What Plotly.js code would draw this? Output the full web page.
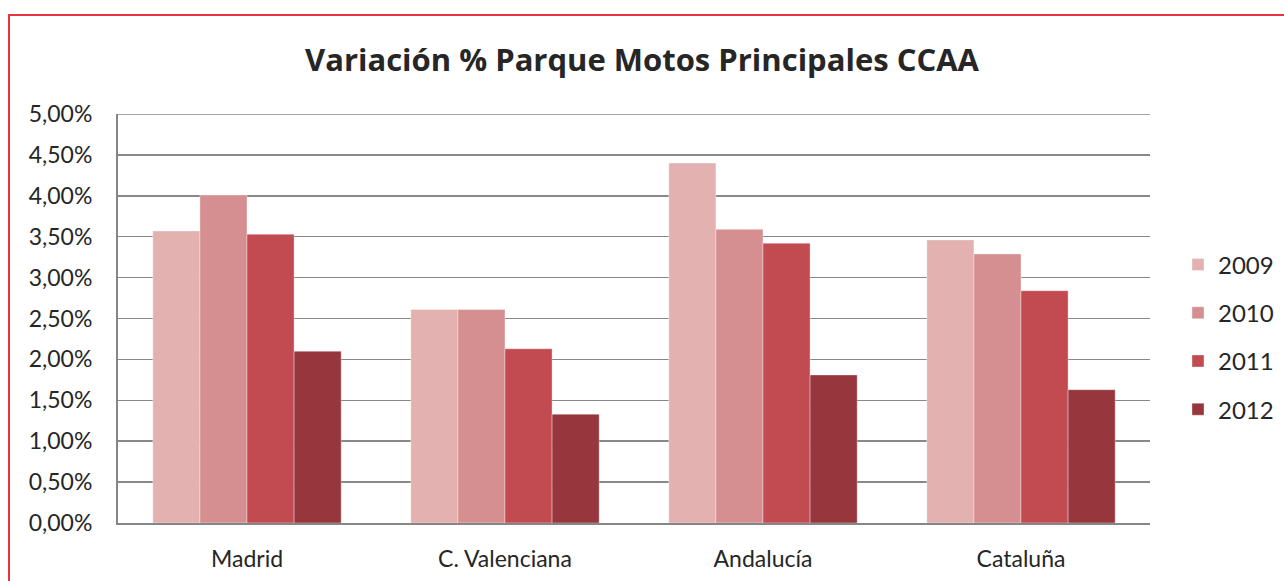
<!DOCTYPE html>
<html><head><meta charset="utf-8">
<script src="https://cdn.plot.ly/plotly-3.0.1.min.js"></script>
<style>
html,body{margin:0;padding:0;background:#fff;}
#frame{position:absolute;left:8px;top:14px;width:1300px;height:600px;border:2px solid #E8333D;box-sizing:border-box;pointer-events:none;z-index:5;}
#chart{position:absolute;left:0;top:0;width:1284px;height:581px;}
</style></head>
<body>
<div id="chart"></div>
<div id="frame"></div>
<script>
const categories = ["Madrid", "C. Valenciana", "Andalucía", "Cataluña"];
const years = ["2009", "2010", "2011", "2012"];
const v2009 = [3.57, 2.61, 4.40, 3.46];
const v2010 = [4.01, 2.61, 3.59, 3.29];
const v2011 = [3.53, 2.13, 3.42, 2.84];
const v2012 = [2.10, 1.33, 1.81, 1.63];
const series = [v2009, v2010, v2011, v2012];
const colors = ["#E2B1B0", "#D68F90", "#C24B51", "#98363D"];

const traces = series.map((vals, i) => ({
  type: "bar",
  name: years[i],
  x: categories,
  y: vals,
  legendgroup: years[i],
  marker: {color: colors[i], line: {color: "rgba(255,255,255,0.35)", width: 1}},
  hoverinfo: "none"
}));

const layout = {
  width: 1284, height: 581,
  paper_bgcolor: "#fff", plot_bgcolor: "#fff",
  margin: {l: 118, r: 134, t: 114, b: 58, autoexpand: false},
  separators: ",.",
  font: {family: "Lato, 'Open Sans', sans-serif", color: "#262626", size: 23},
  title: {text: "<b>Variación % Parque Motos Principales CCAA</b>", x: 0.5, xanchor: "center", y: 0.896, yanchor: "middle",
    font: {size: 31, color: "#262626", family: "'Open Sans', Lato, sans-serif"}},
  barmode: "group",
  bargap: 0.27, bargroupgap: 0,
  xaxis: {showline: true, linecolor: "#868686", linewidth: 2, ticks: "", tickfont: {size: 23},
    showgrid: false, zeroline: false, ticklabelstandoff: 14, automargin: false},
  yaxis: {range: [0, 5], dtick: 0.5, tickformat: ".2f", ticksuffix: "%", showline: true, linecolor: "#868686", linewidth: 2,
    gridcolor: "#888888", gridwidth: 1.5, zeroline: false, ticks: "", ticklabelstandoff: 19, tickfont: {size: 23}, automargin: false},
  legend: {xref: "container", yref: "container", x: 1178/1284, xanchor: "left", y: 1 - 337/581, yanchor: "middle",
    font: {size: 24}, tracegroupgap: 14, itemwidth: 30, bgcolor: "rgba(0,0,0,0)"},
  showlegend: true,
  shapes: [{type: "line", xref: "paper", yref: "y", x0: 0, x1: 1, y0: 5, y1: 5, line: {color: "#888888", width: 1.5}}]
};

Plotly.newPlot("chart", traces, layout, {displayModeBar: false, staticPlot: true});
</script>
</body></html>
